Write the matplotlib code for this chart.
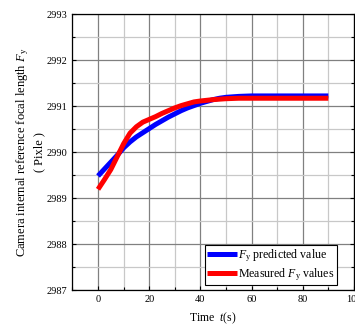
import matplotlib
matplotlib.use("Agg")
import matplotlib.pyplot as plt
import numpy as np
from matplotlib.ticker import MultipleLocator

plt.rcParams['font.family'] = ['Liberation Serif', 'DejaVu Serif']
plt.rcParams['mathtext.fontset'] = 'custom'
plt.rcParams['mathtext.rm'] = 'Liberation Serif'
plt.rcParams['mathtext.it'] = 'Liberation Serif:italic'

# Predicted F_y (blue)
t_pred = [0, 2.5, 5, 7.5, 10, 12.5, 15, 17.5, 20, 22.5, 25, 27.5, 30, 32.5, 35, 37.5,
          40, 42.5, 45, 47.5, 50, 55, 60, 70, 80, 90]
fy_pred = [2989.48, 2989.63, 2989.78, 2989.93, 2990.09, 2990.22, 2990.33, 2990.42,
           2990.51, 2990.60, 2990.68, 2990.76, 2990.83, 2990.90, 2990.96, 2991.01,
           2991.06, 2991.10, 2991.14, 2991.17, 2991.19, 2991.21, 2991.22, 2991.22,
           2991.22, 2991.22]
# Measured F_y (red)
t_meas = [0, 2.5, 5, 7.5, 10, 12.5, 15, 17.5, 20, 22.5, 25, 27.5, 30, 32.5, 35, 37.5,
          40, 45, 50, 55, 60, 70, 80, 90]
fy_meas = [2989.19, 2989.40, 2989.62, 2989.90, 2990.18, 2990.41, 2990.55, 2990.65,
           2990.71, 2990.77, 2990.84, 2990.90, 2990.96, 2991.01, 2991.05, 2991.09,
           2991.11, 2991.14, 2991.16, 2991.17, 2991.17, 2991.17, 2991.17, 2991.17]

fig = plt.figure(figsize=(3.55, 3.27), dpi=100)
ax = fig.add_axes([0.204, 0.113, 0.793, 0.844])

ax.plot(t_pred, fy_pred, color='#0000ff', lw=3.6, label=r'$F_{\rm y}$ predicted value',
        zorder=3, solid_capstyle='butt')
ax.plot(t_meas, fy_meas, color='#ff0000', lw=3.6, label=r'Measured $F_{\rm y}$ values',
        zorder=4, solid_capstyle='butt')

ax.set_xlim(-10, 100)
ax.set_ylim(2987, 2993)
ax.xaxis.set_major_locator(MultipleLocator(20))
ax.xaxis.set_minor_locator(MultipleLocator(10))
ax.yaxis.set_major_locator(MultipleLocator(1))
ax.yaxis.set_minor_locator(MultipleLocator(0.5))
ax.grid(which='major', color='#808080', lw=0.9)
ax.grid(which='minor', color='#c8c8c8', lw=0.9)
ax.set_axisbelow(True)
ax.tick_params(which='both', direction='in', labelsize=7.5, length=3, width=0.8,
               right=True, colors='black')
ax.tick_params(which='minor', length=2)
for s in ax.spines.values():
    s.set_linewidth(0.9)

ax.set_xlabel(r'Time  $t$(s)', fontsize=8.5, labelpad=5)
ax.set_ylabel('Camera internal reference focal length $F_{\\rm y}$\n( Pixle )',
              fontsize=9, labelpad=1, linespacing=1.3)

leg = ax.legend(loc='lower right', bbox_to_anchor=(0.94, 0.018), fontsize=8.6,
                frameon=True, fancybox=False, edgecolor='black', framealpha=1,
                borderpad=0.2, handlelength=2.5, handletextpad=0.1, labelspacing=0.2,
                borderaxespad=0)
leg.get_frame().set_linewidth(0.8)

fig.savefig('out.png', dpi=100)
